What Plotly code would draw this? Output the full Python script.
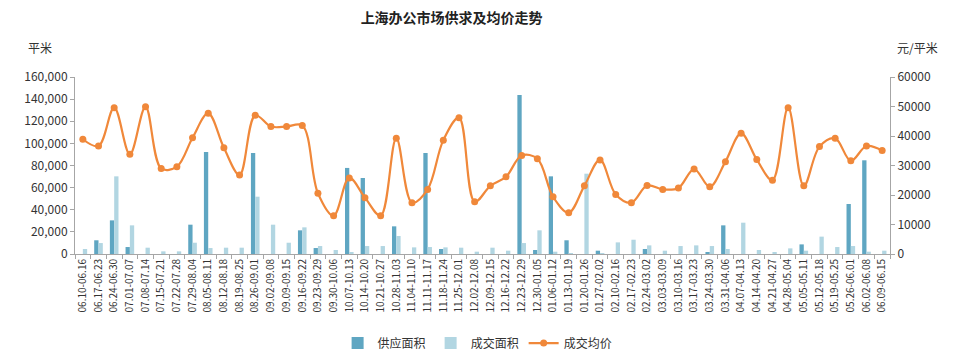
import plotly.graph_objects as go

weeks = ["06.10-06.16", "06.17-06.23", "06.24-06.30", "07.01-07.07", "07.08-07.14", "07.15-07.21",
         "07.22-07.28", "07.29-08.04", "08.05-08.11", "08.12-08.18", "08.19-08.25", "08.26-09.01",
         "09.02-09.08", "09.09-09.15", "09.16-09.22", "09.23-09.29", "09.30-10.06", "10.07-10.13",
         "10.14-10.20", "10.21-10.27", "10.28-11.03", "11.04-11.10", "11.11-11.17", "11.18-11.24",
         "11.25-12.01", "12.02-12.08", "12.09-12.15", "12.16-12.22", "12.23-12.29", "12.30-01.05",
         "01.06-01.12", "01.13-01.19", "01.20-01.26", "01.27-02.02", "02.10-02.16", "02.17-02.23",
         "02.24-03.02", "03.03-03.09", "03.10-03.16", "03.17-03.23", "03.24-03.30", "03.31-04.06",
         "04.07-04.13", "04.14-04.20", "04.21-04.27", "04.28-05.04", "05.05-05.11", "05.12-05.18",
         "05.19-05.25", "05.26-06.01", "06.02-06.08", "06.09-06.15"]

supply_area = [0, 12400, 30400, 6300, 0, 0, 0, 26500, 92200, 0, 0, 91300,
               0, 0, 21400, 5400, 0, 77800, 68700, 0, 25000, 0, 91300, 4500,
               0, 0, 0, 0, 143800, 3600, 70200, 12400, 0, 3000, 0, 0,
               4500, 0, 0, 0, 1000, 25900, 0, 0, 0, 0, 8700, 0,
               0, 45200, 84700, 0]

deal_area = [4500, 9900, 70200, 25900, 5700, 2400, 2400, 10200, 5400, 5700, 5700, 51800,
             26500, 10200, 24100, 7200, 3600, 1000, 7200, 7200, 16300, 6000, 6300, 6000,
             5700, 2100, 5700, 3000, 9900, 21400, 2100, 500, 72600, 900, 10500, 12900,
             7800, 3000, 7200, 7800, 7200, 4500, 28300, 3600, 1000, 5100, 3000, 15700,
             6300, 7200, 2100, 3000]

avg_price = [38900, 36600, 49600, 33800, 49900, 29000, 29600, 39400, 47700, 36000, 26800, 47000,
             43200, 43200, 43600, 20600, 13000, 25800, 19100, 13000, 39200, 17400, 21900, 38600,
             46200, 17700, 23100, 26200, 33400, 32300, 19400, 14000, 23100, 31900, 20200, 17400,
             23200, 21900, 22400, 28800, 22800, 31300, 40900, 32000, 25000, 49600, 23100, 36400,
             39200, 31600, 36600, 35100]

left_ticks = [0, 20000, 40000, 60000, 80000, 100000, 120000, 140000, 160000]
right_ticks = [0, 10000, 20000, 30000, 40000, 50000, 60000]

FONT = "Noto Sans CJK SC, Noto Sans, sans-serif"
DARK = "#5fa6c2"
LIGHT = "#b2d6e2"
ORANGE = "#f0883a"

fig = go.Figure()
fig.add_trace(go.Bar(x=weeks, y=supply_area, name="供应面积", marker_color=DARK,
                     marker_line_width=0))
fig.add_trace(go.Bar(x=weeks, y=deal_area, name="成交面积", marker_color=LIGHT,
                     marker_line_width=0))
fig.add_trace(go.Scatter(x=weeks, y=avg_price, name="成交均价", yaxis="y2",
                         mode="lines+markers",
                         line=dict(color=ORANGE, width=2.2, shape="spline", smoothing=1.0),
                         marker=dict(color=ORANGE, size=7)))

# the page body has an 8px default margin, so the figure is 952x356 placed at (8, 8)
fig.update_layout(
    width=952, height=356,
    margin=dict(l=67, r=70, t=69, b=110, autoexpand=False),
    paper_bgcolor="white", plot_bgcolor="white",
    font=dict(family=FONT, size=12, color="#333333"),
    barmode="group", bargap=0.45, bargroupgap=0,
    title=dict(text="<b>上海办公市场供求及均价走势</b>", x=0.466, xanchor="center",
               y=0.972, yanchor="middle", font=dict(size=14, color="#222222")),
    xaxis=dict(type="category", range=[-0.5, len(weeks) - 0.5],
               tickangle=-90, tickfont=dict(size=10, color="#333333"),
               showline=True, linecolor="#a6a6a6", linewidth=1,
               ticks="outside", ticklen=4, tickcolor="#a6a6a6", tickson="boundaries",
               showgrid=False, automargin=False),
    yaxis=dict(range=[0, 160000], tickvals=left_ticks, tickformat=",d",
               showline=True, linecolor="#a6a6a6", linewidth=1,
               ticks="outside", ticklen=4, tickcolor="#a6a6a6",
               showgrid=False, zeroline=False, tickfont=dict(size=12, color="#333333"),
               automargin=False),
    yaxis2=dict(range=[0, 60000], tickvals=right_ticks, tickformat="d", overlaying="y",
                side="right", showline=True, linecolor="#a6a6a6", linewidth=1,
                ticks="outside", ticklen=4, tickcolor="#a6a6a6",
                showgrid=False, zeroline=False, tickfont=dict(size=12, color="#333333"),
                automargin=False),
    legend=dict(orientation="h", x=0.494, xanchor="center", y=-0.503, yanchor="middle",
                font=dict(size=12, color="#333333"), traceorder="normal"),
    showlegend=True,
)

fig.add_annotation(text="平米", xref="paper", yref="paper", x=-0.043, y=1.164,
                   showarrow=False, xanchor="center", yanchor="middle",
                   font=dict(size=12, color="#333333"))
fig.add_annotation(text="元/平米", xref="paper", yref="paper", x=1.034, y=1.164,
                   showarrow=False, xanchor="center", yanchor="middle",
                   font=dict(size=12, color="#333333"))

fig.write_html("out.html")
